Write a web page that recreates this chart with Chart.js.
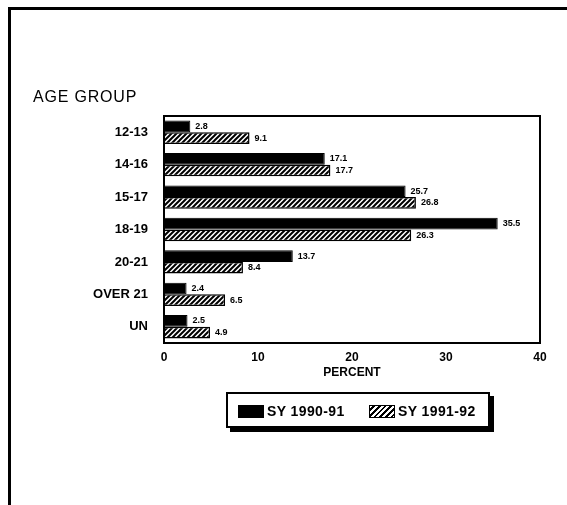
<!DOCTYPE html>
<html>
<head>
<meta charset="utf-8">
<script src="https://cdn.jsdelivr.net/npm/chart.js@4"></script>
<style>
  html, body { margin: 0; padding: 0; background: #fff; }
  #wrap { position: relative; width: 567px; height: 505px; overflow: hidden; background: #fff; }
  #frame { position: absolute; left: 8px; top: 7px; width: 600px; height: 600px; border-top: 3px solid #000; border-left: 3px solid #000; }
  canvas { position: absolute; left: 0; top: 0; }
  #agegroup { position: absolute; left: 33px; top: 88px; font: 16px "Liberation Sans", Arial, sans-serif; color: #000; letter-spacing: 0.8px; }
  #legend { position: absolute; left: 226px; top: 392px; width: 260px; height: 32px; border: 2px solid #000; box-shadow: 4px 4px 0 #000; background: #fff; font: bold 14px "Liberation Sans", Arial, sans-serif; color: #000; letter-spacing: 0.4px; }
  .item { position: absolute; top: 9px; display: flex; align-items: center; white-space: nowrap; }
  .sw { width: 26px; height: 13px; margin-right: 3px; box-sizing: border-box; border: 1px solid #000; }
  .solid { background: #000; }
  .hatch { background: repeating-linear-gradient(135deg, #fff 0 2px, #000 2px 4px); }
</style>
</head>
<body>
<div id="wrap">
  <div id="frame"></div>
  <canvas id="c" width="567" height="505"></canvas>
  <div id="agegroup">AGE GROUP</div>
  <div id="legend">
    <div class="item" style="left:10px"><div class="sw solid"></div><span id="l0"></span></div>
    <div class="item" style="left:141px"><div class="sw hatch"></div><span id="l1"></span></div>
  </div>
</div>
<script>
const categories = ["12-13", "14-16", "15-17", "18-19", "20-21", "OVER 21", "UN"];
const seriesNames = ["SY 1990-91", "SY 1991-92"];
const sy9091 = [2.8, 17.1, 25.7, 35.5, 13.7, 2.4, 2.5];
const sy9192 = [9.1, 17.7, 26.8, 26.3, 8.4, 6.5, 4.9];
const xTicks = [0, 10, 20, 30, 40];

document.getElementById('l0').textContent = seriesNames[0];
document.getElementById('l1').textContent = seriesNames[1];

function hatchPattern() {
  const p = document.createElement('canvas');
  p.width = 5; p.height = 5;
  const g = p.getContext('2d');
  g.fillStyle = '#fff'; g.fillRect(0, 0, 5, 5);
  g.strokeStyle = '#000'; g.lineWidth = 2;
  g.beginPath();
  g.moveTo(-1, 6); g.lineTo(6, -1);
  g.moveTo(-1, 1); g.lineTo(1, -1);
  g.moveTo(4, 6); g.lineTo(6, 4);
  g.stroke();
  return g.createPattern(p, 'repeat');
}

const FONT = '"Liberation Sans", Arial, sans-serif';

const boxPlugin = {
  id: 'box',
  afterDatasetsDraw(chart) {
    const a = chart.chartArea, ctx = chart.ctx;
    ctx.save();
    ctx.strokeStyle = '#000'; ctx.lineWidth = 2;
    ctx.strokeRect(a.left, a.top, a.right - a.left, a.bottom - a.top);
    ctx.restore();
  }
};

const labelPlugin = {
  id: 'vlabels',
  afterDraw(chart) {
    const ctx = chart.ctx;
    ctx.save();
    ctx.fillStyle = '#000';
    ctx.font = 'bold 9px ' + FONT;
    ctx.textBaseline = 'middle';
    ctx.textAlign = 'left';
    chart.data.datasets.forEach((ds, di) => {
      const meta = chart.getDatasetMeta(di);
      meta.data.forEach((el, i) => {
        ctx.fillText(ds.data[i].toFixed(1), el.x + 5, el.y);
      });
    });
    ctx.restore();
  }
};

new Chart(document.getElementById('c'), {
  type: 'bar',
  data: {
    labels: categories,
    datasets: [
      { label: seriesNames[0], data: sy9091, backgroundColor: '#000', borderColor: '#000', borderWidth: 1 },
      { label: seriesNames[1], data: sy9192, backgroundColor: hatchPattern(), borderColor: '#000', borderWidth: 1.5 }
    ]
  },
  options: {
    indexAxis: 'y',
    responsive: false,
    animation: false,
    devicePixelRatio: 1,
    layout: { padding: { top: 116, right: 27, left: 0, bottom: 125 } },
    categoryPercentage: 0.72,
    barPercentage: 1.0,
    plugins: { legend: { display: false }, tooltip: { enabled: false }, title: { display: false } },
    scales: {
      x: {
        min: 0, max: 40,
        afterBuildTicks(s) { s.ticks = xTicks.map(v => ({ value: v })); },
        grid: { display: false, drawTicks: false },
        border: { display: false },
        ticks: { color: '#000', font: { family: FONT, weight: 'bold', size: 12 }, padding: 7, maxRotation: 0 },
        title: { display: true, text: 'PERCENT', color: '#000', font: { family: FONT, weight: 'bold', size: 12 }, padding: { top: 0, bottom: 0 } },
        afterFit(s) { s.height = 37; }
      },
      y: {
        grid: { display: false, drawTicks: false },
        border: { display: false },
        ticks: { color: '#000', font: { family: FONT, weight: 'bold', size: 13 }, padding: 16 },
        afterFit(s) { s.width = 164; }
      }
    }
  },
  plugins: [boxPlugin, labelPlugin]
});
</script>
</body>
</html>
